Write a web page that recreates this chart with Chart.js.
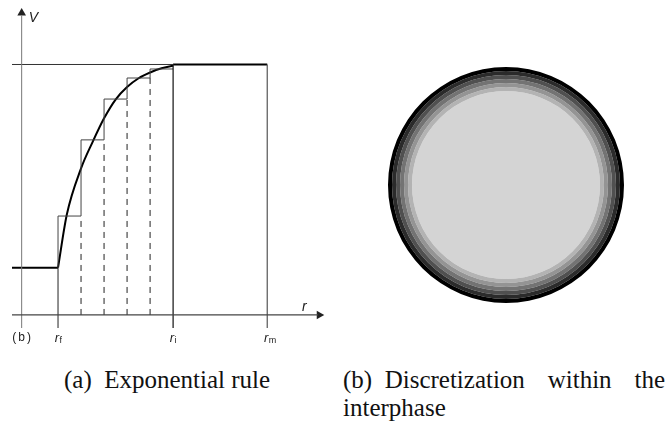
<!DOCTYPE html>
<html>
<head>
<meta charset="utf-8">
<script src="https://cdn.jsdelivr.net/npm/chart.js@4.4.1/dist/chart.umd.min.js"></script>
<style>
  html, body { margin: 0; padding: 0; background: #fff; }
  body { width: 671px; height: 431px; position: relative; overflow: hidden; }
  #profileBox { position: absolute; left: 0; top: 0; width: 340px; height: 350px; }
  #shellBox { position: absolute; left: 388px; top: 67px; width: 236px; height: 236px; }
  .caption { position: absolute; font-family: "Liberation Serif", "Times New Roman", serif; font-size: 25px; line-height: 28px; color: #111; }
  #capA { left: 64px; top: 366px; white-space: nowrap; }
  #capB { left: 343px; top: 366px; width: 322px; text-align: justify; text-align-last: left; }
</style>
</head>
<body>
<div id="profileBox"><canvas id="profileChart"></canvas></div>
<div id="shellBox"><canvas id="shellChart"></canvas></div>
<div class="caption" id="capA">(a)&ensp;Exponential rule</div>
<div class="caption" id="capB">(b)&ensp;Discretization within the interphase</div>
<script>
// r positions (1 unit = one shell of the interphase)
const rStart = -2;
const rAxis = -1.58;
const rFiber = 0;
const rInter = 5;
const rMatrix = 9.09;
const rEnd = 11.6;

// V range
const vBottom = -0.052;
const vTop = 1.2255;
const vFiber = 0.189;
const vMatrix = 1;

// exponential curve
const curveR = [0, 0.38, 1, 1.5, 2, 2.5, 3, 3.5, 4, 4.5, 5];
const curveV = [0.189, 0.40, 0.585, 0.69, 0.785, 0.86, 0.91, 0.945, 0.968, 0.985, 0.995];

// discretised shells (step values)
const shellEdges = [0, 1, 2, 3, 4, 5];
const shellV = [0.395, 0.699, 0.862, 0.946, 0.982];

// tick labels under the r axis
const tickValues = [rAxis, rFiber, rInter, rMatrix];
const tickMain = ['(b)', 'r', 'r', 'r'];
const tickSub = ['', 'f', 'i', 'm'];

// shells of the circle, outside -> inside
const ringColors = ['#000000', '#2b2b2b', '#505050', '#737373', '#949494', '#b3b3b3', '#d4d4d4'];
const ringWeights = [4, 4, 4, 4, 4, 4, 94];


function seg(x1, y1, x2, y2) {
    return [{ x: x1, y: y1 }, { x: x2, y: y2 }];
}

function lineSet(data, color, width, dash) {
    return {
        data: data,
        showLine: true,
        borderColor: color,
        borderWidth: width,
        borderDash: dash || [],
        pointRadius: 0,
        spanGaps: false,
        clip: false
    };
}

// staircase of the shells
const stairs = [{ x: shellEdges[0], y: vFiber }];
shellV.forEach((v, i) => {
    stairs.push({ x: shellEdges[i], y: v });
    stairs.push({ x: shellEdges[i + 1], y: v });
});

// dashed lines under the inner shell borders
const dashes = [];
for (let i = 1; i < shellEdges.length - 1; i++) {
    dashes.push({ x: shellEdges[i], y: 0 });
    dashes.push({ x: shellEdges[i], y: shellV[i - 1] });
    dashes.push({ x: shellEdges[i], y: null });
}

const curve = curveR.map((r, i) => ({ x: r, y: curveV[i] }));

const labelPlugin = {
    id: 'figLabels',
    afterDraw(chart) {
        const c = chart.ctx;
        const xs = chart.scales.x;
        const ys = chart.scales.y;
        const yLab = chart.chartArea.bottom + 10;
        c.save();
        c.fillStyle = '#222';
        c.textBaseline = 'middle';
        tickValues.forEach((v, i) => {
            const px = xs.getPixelForValue(v);
            if (tickSub[i] === '') {
                c.font = '12px "Liberation Sans", Arial, sans-serif';
                c.letterSpacing = '2px';
                c.textAlign = 'center';
                c.fillText(tickMain[i], px + 1, yLab);
                c.letterSpacing = '0px';
            } else {
                c.font = 'italic 13px "Liberation Sans", Arial, sans-serif';
                c.textAlign = 'right';
                c.fillText(tickMain[i], px + 1, yLab);
                c.font = '9px "Liberation Sans", Arial, sans-serif';
                c.textAlign = 'left';
                c.fillText(tickSub[i], px + 1.5, yLab + 3);
            }
        });
        c.font = 'italic 14px "Liberation Sans", Arial, sans-serif';
        c.textAlign = 'left';
        c.fillText('V', xs.getPixelForValue(rAxis) + 7, ys.getPixelForValue(vTop) + 10);
        c.fillText('r', 302, ys.getPixelForValue(0) - 8);
        c.restore();
    }
};

new Chart(document.getElementById('profileChart'), {
    type: 'scatter',
    data: {
        datasets: [
            lineSet(seg(rStart, 0, rEnd - 0.3, 0), '#444', 1.2),
            lineSet(seg(rAxis, vBottom, rAxis, vTop - 0.03), '#777', 1),
            lineSet(seg(rStart, vMatrix, rInter, vMatrix), '#333', 1),
            lineSet(seg(rFiber, vBottom, rFiber, vFiber), '#222', 1),
            lineSet(seg(rInter, vBottom, rInter, vMatrix), '#111', 1.2),
            lineSet(seg(rMatrix, vBottom, rMatrix, vMatrix), '#555', 1.2),
            lineSet(stairs, '#444', 1),
            lineSet(dashes, '#222', 1, [6, 5]),
            lineSet(seg(rStart, vFiber, rFiber, vFiber), '#000', 2),
            Object.assign(lineSet(curve, '#000', 2), { cubicInterpolationMode: 'monotone' }),
            lineSet(seg(rInter, vMatrix, rMatrix, vMatrix), '#000', 2),
            {
                data: [{ x: rEnd - 0.25, y: 0 }],
                pointStyle: 'triangle',
                rotation: 90,
                pointRadius: 5,
                backgroundColor: '#222',
                borderWidth: 0,
                clip: false
            },
            {
                data: [{ x: rAxis, y: vTop - 0.02 }],
                pointStyle: 'triangle',
                rotation: 0,
                pointRadius: 5,
                backgroundColor: '#222',
                borderWidth: 0,
                clip: false
            }
        ]
    },
    options: {
        responsive: true,
        maintainAspectRatio: false,
        animation: false,
        events: [],
        layout: { padding: { left: 12, right: 15, top: 8, bottom: 22 } },
        scales: {
            x: { type: 'linear', min: rStart, max: rEnd, display: false },
            y: { type: 'linear', min: vBottom, max: vTop, display: false }
        },
        plugins: {
            legend: { display: false },
            tooltip: { enabled: false }
        }
    },
    plugins: [labelPlugin]
});


new Chart(document.getElementById('shellChart'), {
    type: 'pie',
    data: {
        datasets: ringColors.map((col, i) => ({
            data: [1],
            backgroundColor: col,
            borderWidth: 0,
            weight: ringWeights[i]
        }))
    },
    options: {
        responsive: true,
        maintainAspectRatio: false,
        animation: false,
        events: [],
        layout: { padding: 0 },
        plugins: {
            legend: { display: false },
            tooltip: { enabled: false }
        }
    }
});
</script>
</body>
</html>
